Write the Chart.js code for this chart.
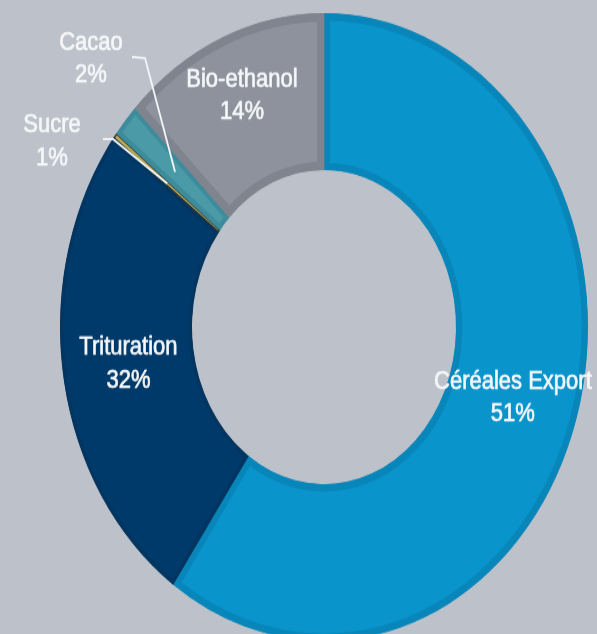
<!DOCTYPE html>
<html>
<head>
<meta charset="utf-8">
<script src="https://cdn.jsdelivr.net/npm/chart.js@4.4.1/dist/chart.umd.min.js"></script>
<style>
  html, body {
    margin: 0;
    padding: 0;
    width: 597px;
    height: 634px;
    overflow: hidden;
    background: #bdc1c9;
  }
  /* the source picture is stretched vertically, so the whole chart is too */
  #wrap {
    width: 597px;
    height: 550px;
    transform: scaleY(1.1894);
    transform-origin: 0 0;
  }
</style>
</head>
<body>
<div id="wrap"><canvas id="chart" width="597" height="550"></canvas></div>
<script>
// Data (slice sizes as drawn, labels as printed)
const categories = ['Céréales Export', 'Trituration', 'Sucre', 'Cacao', 'Bio-ethanol'];
const sliceValues = [59.7, 25.6, 0.3, 1.7, 12.7];
const pctLabels = ['51%', '32%', '1%', '2%', '14%'];

const fillColors = ['#0a94cc', '#003a6b', '#b9a955', '#4b9aa8', '#8e929d'];
const edgeColors = ['#0886ba', '#02355f', '#1f2f3a', '#3e8c9b', '#80848e'];

const lineGap = 27.3;

// where each label goes: inside the ring (radial fraction) or outside with a leader line
const labelLayout = [
    { inside: 0.5 },
    { inside: 0.5 },
    { text: [52, 119], start: [103, 116.9], elbow: [113, 116.9] },
    { text: [91, 49.6], start: [132, 47.9], elbow: [145, 48.8] },
    { inside: 0.6 },
];

// draws the two-line labels and the leader lines
const labelPlugin = {
    id: 'sliceLabels',
    afterDatasetsDraw(chart) {
        const ctx = chart.ctx;
        const arcs = chart.getDatasetMeta(0).data;
        ctx.save();
        ctx.font = '22px "Liberation Sans", Arial, sans-serif';
        ctx.textAlign = 'center';
        ctx.textBaseline = 'middle';
        ctx.fillStyle = '#f5f7f9';
        ctx.strokeStyle = '#f5f7f9';
        arcs.forEach((arc, i) => {
            const lay = labelLayout[i];
            const p = arc.getProps(['x', 'y', 'startAngle', 'endAngle', 'innerRadius', 'outerRadius'], true);
            let cx, cy;
            if (lay.inside !== undefined) {
                const a = (p.startAngle + p.endAngle) / 2;
                const r = p.innerRadius + (p.outerRadius - p.innerRadius) * lay.inside;
                cx = p.x + Math.cos(a) * r;
                cy = p.y + Math.sin(a) * r;
            } else {
                const end = arc.tooltipPosition(true);
                ctx.lineWidth = 1.8;
                ctx.beginPath();
                ctx.moveTo(lay.start[0], lay.start[1]);
                ctx.lineTo(lay.elbow[0], lay.elbow[1]);
                ctx.lineTo(end.x, end.y);
                ctx.stroke();
                cx = lay.text[0];
                cy = lay.text[1];
            }
            // a thin stroke makes the glyphs a bit heavier, like the source
            ctx.lineWidth = 0.6;
            [[categories[i], cy - lineGap / 2], [pctLabels[i], cy + lineGap / 2]].forEach(([t, ty]) => {
                ctx.fillText(t, cx, ty);
                ctx.strokeText(t, cx, ty);
            });
        });
        ctx.restore();
    }
};

const ctx = document.getElementById('chart').getContext('2d');
const chart = new Chart(ctx, {
    type: 'doughnut',
    data: {
        labels: categories,
        datasets: [{
            data: sliceValues,
            backgroundColor: fillColors,
            borderColor: edgeColors,
            borderWidth: [6, 3, 1, 4, 7],
            borderAlign: 'inner',
            hoverOffset: 0,
        }],
    },
    options: {
        responsive: false,
        devicePixelRatio: 1,
        animation: false,
        cutout: '50%',
        events: [],
        layout: {
            padding: { left: 60, right: 9, top: 11, bottom: 11 },
        },
        plugins: {
            legend: { display: false },
            tooltip: { enabled: false },
        },
    },
    plugins: [labelPlugin],
});
</script>
</body>
</html>
